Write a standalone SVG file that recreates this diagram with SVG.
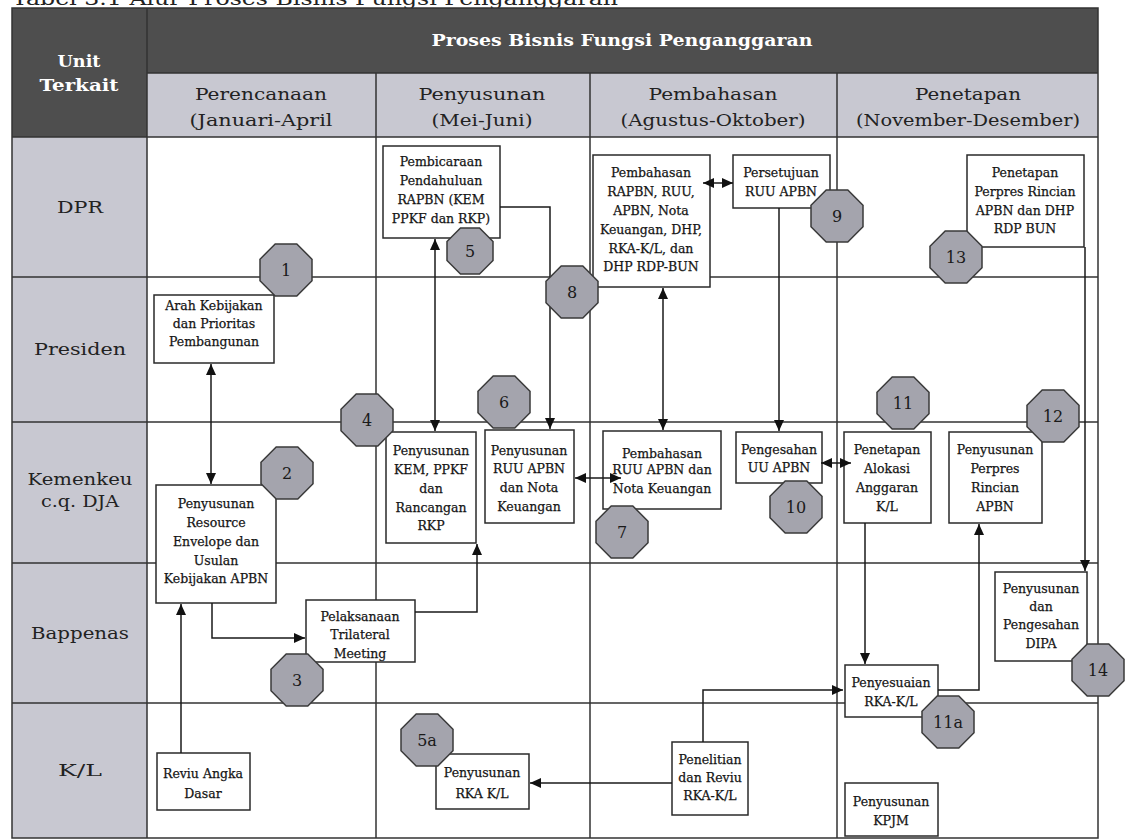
<svg xmlns="http://www.w3.org/2000/svg" width="1126" height="840" viewBox="0 0 1126 840">
<defs>
<style>
.bg{fill:#ffffff}
.dark{fill:#4e4e4e}
.lav{fill:#c8c8d1}
.grid{stroke:#333;stroke-width:1.5;fill:none}
.box{fill:#fff;stroke:#2a2a2a;stroke-width:1.5}
.bt{font-family:"DejaVu Serif","Liberation Serif",serif;font-size:12.5px;fill:#151515;stroke:#151515;stroke-width:0.25;text-anchor:middle}
.hd{font-family:"DejaVu Serif","Liberation Serif",serif;font-size:17px;font-weight:bold;fill:#fff;text-anchor:middle}
.ph{font-family:"DejaVu Serif","Liberation Serif",serif;font-size:16px;fill:#222;text-anchor:middle}
.rl{font-family:"DejaVu Serif","Liberation Serif",serif;font-size:17px;fill:#222;text-anchor:middle}
.oct{fill:#a4a4ad;stroke:#3a3a3a;stroke-width:1.5}
.on{font-family:"DejaVu Serif","Liberation Serif",serif;font-size:16px;fill:#1a1a1a;text-anchor:middle}
.con{fill:none;stroke:#1a1a1a;stroke-width:1.5}
.title{font-family:"DejaVu Serif","Liberation Serif",serif;font-size:18px;fill:#222}
</style>
<marker id="ah" markerUnits="userSpaceOnUse" markerWidth="12" markerHeight="10" refX="11" refY="5" orient="auto-start-reverse">
<path d="M0,0 L11,5 L0,10 z" fill="#111"/>
</marker>
<polygon id="oct" points="-10.8,-26 10.8,-26 26,-10.8 26,10.8 10.8,26 -10.8,26 -26,10.8 -26,-10.8"/>
<polygon id="octs" points="-9.5,-23 9.5,-23 23,-9.5 23,9.5 9.5,23 -9.5,23 -23,9.5 -23,-9.5"/>
</defs>

<rect x="0" y="0" width="1126" height="840" fill="#fff"/>
<text class="title" x="12" y="5" textLength="606" lengthAdjust="spacingAndGlyphs">Tabel 3.1 Alur Proses Bisnis Fungsi Penganggaran</text>

<g id="table">
<rect class="dark" x="12" y="8" width="1086" height="65"/>
<rect class="dark" x="12" y="8" width="135" height="129"/>
<rect class="lav" x="147" y="73" width="951" height="64"/>
<rect class="lav" x="12" y="137" width="135" height="701"/>
<rect class="bg" x="147" y="137" width="951" height="701"/>
<path class="grid" d="M12,8 H1098 V838 H12 Z"/>
<path class="grid" d="M147,8 V838 M147,73 H1098 M12,137 H1098 M376,73 V838 M590,73 V838 M837,73 V838"/>
<path class="grid" d="M12,277 H1098 M12,422 H1098 M12,563 H1098 M12,703 H1098"/>
<text class="hd" x="622" y="46" textLength="381" lengthAdjust="spacingAndGlyphs">Proses Bisnis Fungsi Penganggaran</text>
<text class="hd" x="79" y="67" textLength="43" lengthAdjust="spacingAndGlyphs">Unit</text>
<text class="hd" x="79" y="91" textLength="79" lengthAdjust="spacingAndGlyphs">Terkait</text>
<text class="ph" x="261" y="100" textLength="132" lengthAdjust="spacingAndGlyphs">Perencanaan</text>
<text class="ph" x="261" y="126" textLength="143" lengthAdjust="spacingAndGlyphs">(Januari-April</text>
<text class="ph" x="482" y="100" textLength="127" lengthAdjust="spacingAndGlyphs">Penyusunan</text>
<text class="ph" x="482" y="126" textLength="101" lengthAdjust="spacingAndGlyphs">(Mei-Juni)</text>
<text class="ph" x="713" y="100" textLength="129" lengthAdjust="spacingAndGlyphs">Pembahasan</text>
<text class="ph" x="713" y="126" textLength="185" lengthAdjust="spacingAndGlyphs">(Agustus-Oktober)</text>
<text class="ph" x="968" y="100" textLength="106" lengthAdjust="spacingAndGlyphs">Penetapan</text>
<text class="ph" x="968" y="126" textLength="224" lengthAdjust="spacingAndGlyphs">(November-Desember)</text>
<text class="rl" x="80" y="213" textLength="46" lengthAdjust="spacingAndGlyphs">DPR</text>
<text class="rl" x="80" y="355" textLength="92" lengthAdjust="spacingAndGlyphs">Presiden</text>
<text class="rl" x="80" y="485" textLength="105" lengthAdjust="spacingAndGlyphs">Kemenkeu</text>
<text class="rl" x="80" y="507" textLength="78" lengthAdjust="spacingAndGlyphs">c.q. DJA</text>
<text class="rl" x="80" y="639" textLength="98" lengthAdjust="spacingAndGlyphs">Bappenas</text>
<text class="rl" x="80" y="776" textLength="44" lengthAdjust="spacingAndGlyphs">K/L</text>
</g>

<g id="n-pembicaraan"><rect class="box" x="383" y="146" width="117" height="92"/>
<text class="bt" x="441" y="166">Pembicaraan</text><text class="bt" x="441" y="185">Pendahuluan</text><text class="bt" x="441" y="204">RAPBN (KEM</text><text class="bt" x="441" y="223">PPKF dan RKP)</text></g>
<g id="n-arah"><rect class="box" x="154" y="295" width="120" height="68"/>
<text class="bt" x="214" y="310">Arah Kebijakan</text><text class="bt" x="214" y="328">dan Prioritas</text><text class="bt" x="214" y="346">Pembangunan</text></g>
<g id="n-resource"><rect class="box" x="156" y="485" width="120" height="118"/>
<text class="bt" x="216" y="508">Penyusunan</text><text class="bt" x="216" y="527">Resource</text><text class="bt" x="216" y="546">Envelope dan</text><text class="bt" x="216" y="565">Usulan</text><text class="bt" x="216" y="583">Kebijakan APBN</text></g>
<g id="n-trilateral"><rect class="box" x="306" y="600" width="109" height="62"/>
<text class="bt" x="360" y="621">Pelaksanaan</text><text class="bt" x="360" y="639">Trilateral</text><text class="bt" x="360" y="658">Meeting</text></g>
<g id="n-kem"><rect class="box" x="386" y="432" width="90" height="111"/>
<text class="bt" x="431" y="455">Penyusunan</text><text class="bt" x="431" y="474">KEM, PPKF</text><text class="bt" x="431" y="493">dan</text><text class="bt" x="431" y="512">Rancangan</text><text class="bt" x="431" y="530">RKP</text></g>
<g id="n-ruu"><rect class="box" x="485" y="430" width="89" height="93"/>
<text class="bt" x="529" y="455">Penyusunan</text><text class="bt" x="529" y="473">RUU APBN</text><text class="bt" x="529" y="492">dan Nota</text><text class="bt" x="529" y="511">Keuangan</text></g>
<g id="n-pembahasan-ruu"><rect class="box" x="603" y="431" width="118" height="78"/>
<text class="bt" x="662" y="458">Pembahasan</text><text class="bt" x="662" y="474">RUU APBN dan</text><text class="bt" x="662" y="493">Nota Keuangan</text></g>
<g id="n-pembahasan-rapbn"><rect class="box" x="593" y="155" width="117" height="132"/>
<text class="bt" x="651" y="177">Pembahasan</text><text class="bt" x="651" y="196">RAPBN, RUU,</text><text class="bt" x="651" y="215">APBN, Nota</text><text class="bt" x="651" y="234">Keuangan, DHP,</text><text class="bt" x="651" y="253">RKA-K/L, dan</text><text class="bt" x="651" y="271">DHP RDP-BUN</text></g>
<g id="n-persetujuan"><rect class="box" x="733" y="155" width="97" height="53"/>
<text class="bt" x="781" y="177">Persetujuan</text><text class="bt" x="781" y="196">RUU APBN</text></g>
<g id="n-penetapan-perpres"><rect class="box" x="967" y="155" width="117" height="92"/>
<text class="bt" x="1025" y="177">Penetapan</text><text class="bt" x="1025" y="196">Perpres Rincian</text><text class="bt" x="1025" y="215">APBN dan DHP</text><text class="bt" x="1025" y="233">RDP BUN</text></g>
<g id="n-pengesahan"><rect class="box" x="736" y="432" width="86" height="51"/>
<text class="bt" x="779" y="454">Pengesahan</text><text class="bt" x="779" y="472">UU APBN</text></g>
<g id="n-alokasi"><rect class="box" x="844" y="432" width="87" height="91"/>
<text class="bt" x="887" y="454">Penetapan</text><text class="bt" x="887" y="473">Alokasi</text><text class="bt" x="887" y="492">Anggaran</text><text class="bt" x="887" y="511">K/L</text></g>
<g id="n-perpres"><rect class="box" x="949" y="432" width="93" height="91"/>
<text class="bt" x="995" y="454">Penyusunan</text><text class="bt" x="995" y="473">Perpres</text><text class="bt" x="995" y="492">Rincian</text><text class="bt" x="995" y="511">APBN</text></g>
<g id="n-dipa"><rect class="box" x="995" y="572" width="92" height="89"/>
<text class="bt" x="1041" y="593">Penyusunan</text><text class="bt" x="1041" y="611">dan</text><text class="bt" x="1041" y="629">Pengesahan</text><text class="bt" x="1041" y="648">DIPA</text></g>
<g id="n-penyesuaian"><rect class="box" x="845" y="665" width="93" height="52"/>
<text class="bt" x="891" y="687">Penyesuaian</text><text class="bt" x="891" y="706">RKA-K/L</text></g>
<g id="n-kpjm"><rect class="box" x="845" y="783" width="93" height="53"/>
<text class="bt" x="891" y="806">Penyusunan</text><text class="bt" x="891" y="825">KPJM</text></g>
<g id="n-reviu"><rect class="box" x="157" y="753" width="93" height="57"/>
<text class="bt" x="203" y="778">Reviu Angka</text><text class="bt" x="203" y="798">Dasar</text></g>
<g id="n-rkakl"><rect class="box" x="436" y="754" width="93" height="55"/>
<text class="bt" x="482" y="777">Penyusunan</text><text class="bt" x="482" y="798">RKA K/L</text></g>
<g id="n-penelitian"><rect class="box" x="672" y="742" width="76" height="73"/>
<text class="bt" x="710" y="764">Penelitian</text><text class="bt" x="710" y="782">dan Reviu</text><text class="bt" x="710" y="800">RKA-K/L</text></g>

<g id="connectors">
<path class="con" d="M211,364 V484" marker-start="url(#ah)" marker-end="url(#ah)"/>
<path class="con" d="M181,753 V604" marker-end="url(#ah)"/>
<path class="con" d="M212,603 V638 H305" marker-end="url(#ah)"/>
<path class="con" d="M415,612 H477 V544" marker-end="url(#ah)"/>
<path class="con" d="M435,239 V431" marker-start="url(#ah)" marker-end="url(#ah)"/>
<path class="con" d="M500,207 H550 V429" marker-end="url(#ah)"/>
<path class="con" d="M663,288 V430" marker-start="url(#ah)" marker-end="url(#ah)"/>
<path class="con" d="M575,478 H621" marker-start="url(#ah)" marker-end="url(#ah)"/>
<path class="con" d="M703,183 H733" marker-start="url(#ah)" marker-end="url(#ah)"/>
<path class="con" d="M779,208 V431" marker-end="url(#ah)"/>
<path class="con" d="M821,463 H851" marker-start="url(#ah)" marker-end="url(#ah)"/>
<path class="con" d="M865,523 V664" marker-end="url(#ah)"/>
<path class="con" d="M938,690 H979 V524" marker-end="url(#ah)"/>
<path class="con" d="M1085,247 V571" marker-end="url(#ah)"/>
<path class="con" d="M703,742 V690 H843" marker-end="url(#ah)"/>
<path class="con" d="M672,783 H530" marker-end="url(#ah)"/>
</g>

<g id="o1"><use href="#oct" class="oct" x="286" y="270"/><text class="on" x="286" y="276">1</text></g>
<g id="o2"><use href="#oct" class="oct" x="287" y="473"/><text class="on" x="287" y="479">2</text></g>
<g id="o3"><use href="#oct" class="oct" x="297" y="680"/><text class="on" x="297" y="686">3</text></g>
<g id="o4"><use href="#oct" class="oct" x="367" y="420"/><text class="on" x="367" y="426">4</text></g>
<g id="o5"><use href="#octs" class="oct" x="470" y="251"/><text class="on" x="470" y="257">5</text></g>
<g id="o5a"><use href="#oct" class="oct" x="427" y="740"/><text class="on" x="427" y="746">5a</text></g>
<g id="o6"><use href="#oct" class="oct" x="504" y="402"/><text class="on" x="504" y="408">6</text></g>
<g id="o7"><use href="#oct" class="oct" x="622" y="532"/><text class="on" x="622" y="538">7</text></g>
<g id="o8"><use href="#oct" class="oct" x="572" y="292"/><text class="on" x="572" y="298">8</text></g>
<g id="o9"><use href="#oct" class="oct" x="837" y="216"/><text class="on" x="837" y="222">9</text></g>
<g id="o10"><use href="#oct" class="oct" x="796" y="507"/><text class="on" x="796" y="513">10</text></g>
<g id="o11"><use href="#oct" class="oct" x="903" y="403"/><text class="on" x="903" y="409">11</text></g>
<g id="o11a"><use href="#oct" class="oct" x="948" y="722"/><text class="on" x="948" y="728">11a</text></g>
<g id="o12"><use href="#oct" class="oct" x="1053" y="416"/><text class="on" x="1053" y="422">12</text></g>
<g id="o13"><use href="#oct" class="oct" x="956" y="257"/><text class="on" x="956" y="263">13</text></g>
<g id="o14"><use href="#oct" class="oct" x="1098" y="670"/><text class="on" x="1098" y="676">14</text></g>
</svg>
